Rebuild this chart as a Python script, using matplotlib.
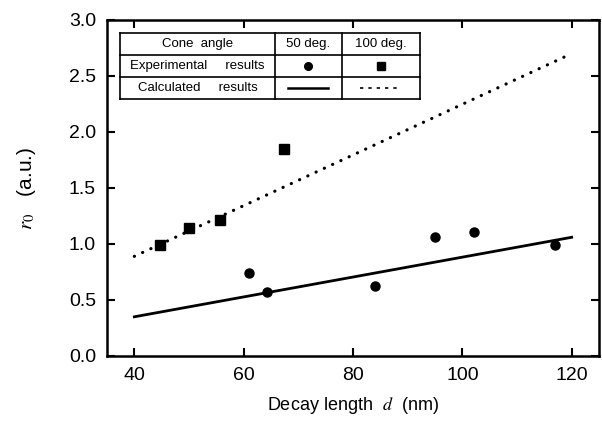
import matplotlib
matplotlib.use("Agg")
import matplotlib.pyplot as plt
import numpy as np

plt.rcParams['font.family'] = ['Liberation Sans', 'DejaVu Sans']
plt.rcParams['mathtext.fontset'] = 'stix'

# Data
sq_x = [44.7, 50.0, 55.6, 67.3]
sq_y = [0.99, 1.14, 1.21, 1.85]
ci_x = [61.0, 64.2, 84.1, 95.0, 102.2, 117.0]
ci_y = [0.74, 0.57, 0.625, 1.06, 1.107, 0.99]
calc_x = [40, 120]
calc50_y = [0.35, 1.06]
calc100_y = [0.89, 2.70]

xticks = [40, 60, 80, 100, 120]
yticks = [0.0, 0.5, 1.0, 1.5, 2.0, 2.5, 3.0]

table_rows = [["Cone  angle", "50 deg.", "100 deg."],
              ["Experimental     results", "", ""],
              ["Calculated     results", "", ""]]

fig = plt.figure(figsize=(6.02, 4.26), dpi=100)
ax = fig.add_axes([107/602, 70/426, 492/602, 336/426])

ax.plot(calc_x, calc50_y, '-', color='black', lw=2.0)
ax.plot(calc_x, calc100_y, linestyle=(0, (0.05, 2.8)), color='black', lw=2.3,
        dash_capstyle='round')
ax.plot(sq_x, sq_y, 's', color='black', ms=6.5)
ax.plot(ci_x, ci_y, 'o', color='black', ms=6.5)

ax.set_xlim(35, 125)
ax.set_ylim(0, 3.0)
ax.set_xticks(xticks)
ax.set_yticks(yticks)
ax.set_yticklabels([f"{v:.1f}" for v in yticks])
ax.tick_params(direction='in', length=6, width=1.5, labelsize=14,
               top=True, right=True, pad=8)
for s in ax.spines.values():
    s.set_linewidth(1.8)

ax.set_xlabel(r'Decay length  $\mathit{d}$  (nm)', fontsize=13, labelpad=8)
ax.set_ylabel(r'$\mathit{r}_{\mathit{0}}$   (a.u.)', fontsize=15, labelpad=22)

# Table drawn in an inset axes
tx0, tx1 = 120/602, 420/602
ty_top, ty_bot = 1 - 32.7/426, 1 - 99/426
tab = fig.add_axes([tx0, ty_bot, tx1 - tx0, ty_top - ty_bot])
tab.set_xlim(0, 300)
tab.set_ylim(0, 3)
tab.axis('off')
col_edges = [0, 155, 221.7, 300]
for y in [0, 1, 2, 3]:
    tab.plot([0, 300], [y, y], color='black', lw=1.2, clip_on=False)
for x in col_edges:
    tab.plot([x, x], [0, 3], color='black', lw=1.2, clip_on=False)
for r, row in enumerate(table_rows):
    yc = 2.5 - r
    for c, txt in enumerate(row):
        if txt:
            tab.text((col_edges[c] + col_edges[c+1]) / 2, yc, txt,
                     ha='center', va='center', fontsize=9.5)
# legend samples
tab.plot([188.3], [1.5], 'o', color='black', ms=5.5)
tab.plot([260.8], [1.5], 's', color='black', ms=5.5)
tab.plot([168, 208], [0.5, 0.5], '-', color='black', lw=1.8)
tab.plot([240, 280], [0.5, 0.5], linestyle=(0, (2, 3)), color='black', lw=1.2)

fig.savefig('out.png', dpi=100)
